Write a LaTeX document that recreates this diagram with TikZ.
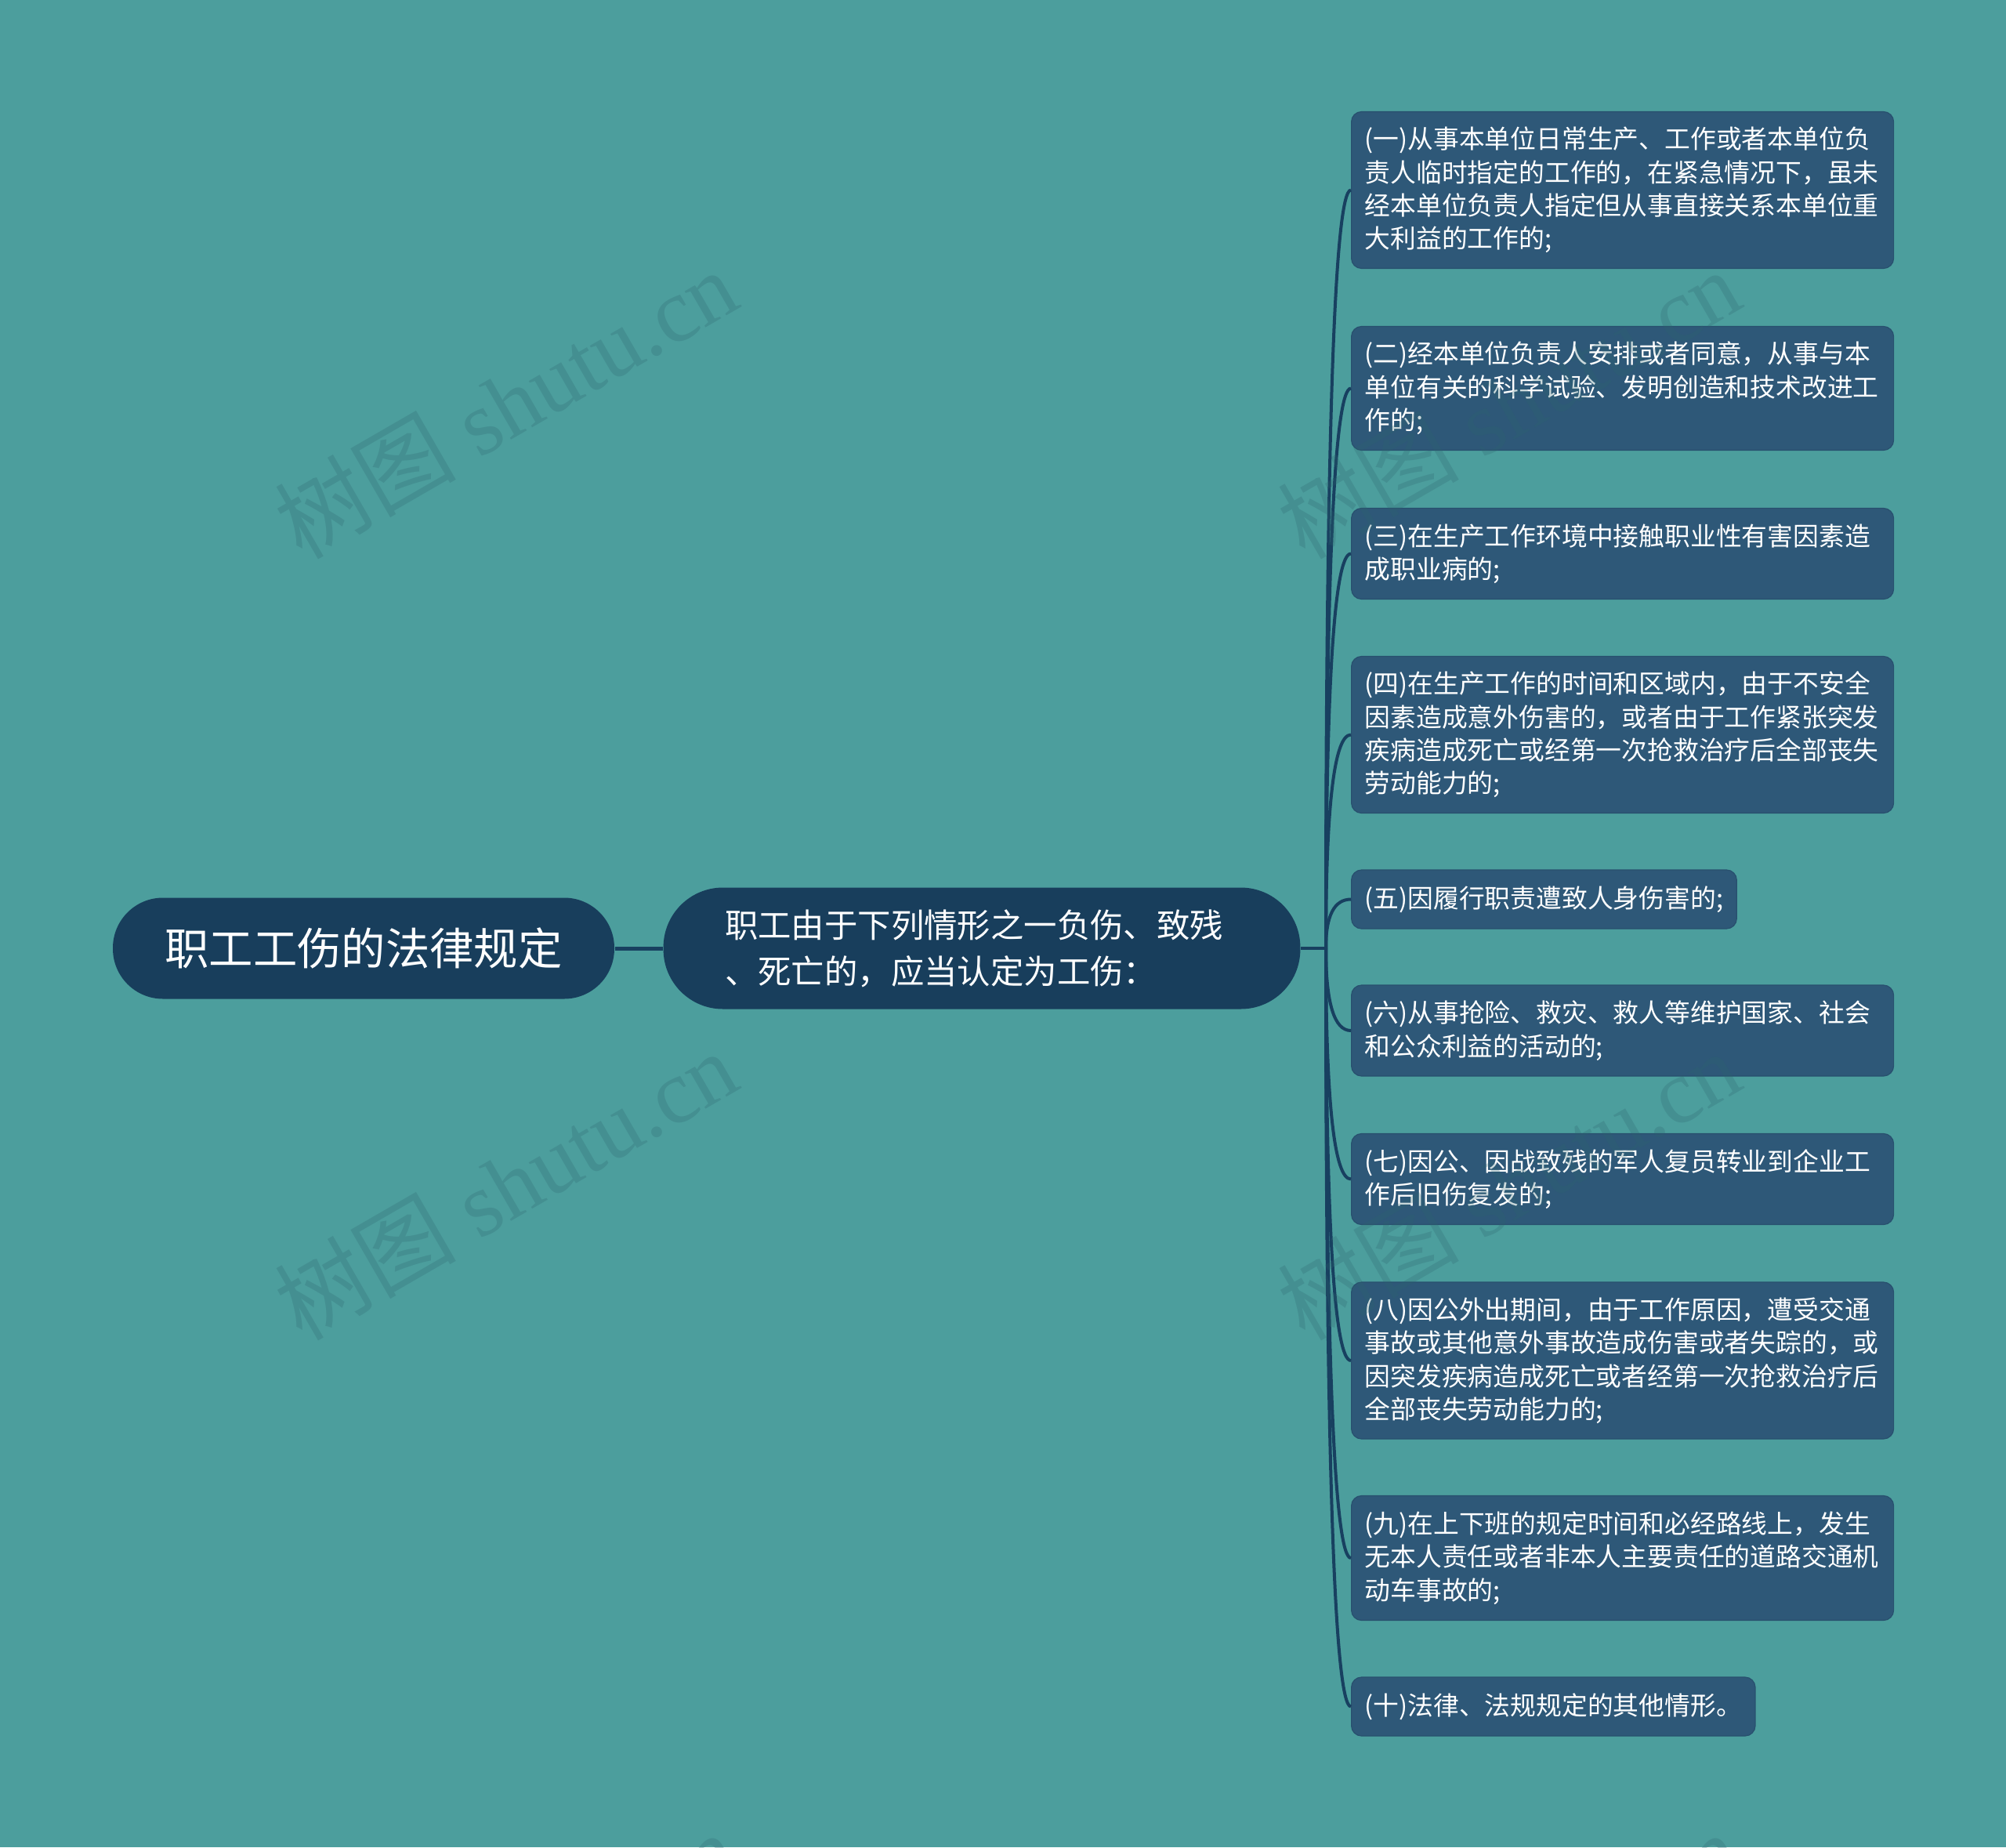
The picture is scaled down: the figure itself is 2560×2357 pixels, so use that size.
\documentclass[tikz,border=0pt]{standalone}
\usepackage{fontspec}
\setmainfont{Noto Sans CJK SC}
\newfontfamily\wmfont{Liberation Serif}
\newfontfamily\wmcjk{Noto Sans CJK SC}
\usetikzlibrary{calc}

\definecolor{bgteal}{RGB}{76,158,157}
\definecolor{rootblue}{RGB}{24,62,92}
\definecolor{itemblue}{RGB}{46,88,120}
\definecolor{itemline}{RGB}{40,80,110}
\definecolor{linkblue}{RGB}{24,64,96}
\definecolor{wmgray}{RGB}{45,100,110}

\begin{document}
\begin{tikzpicture}[x=0.25pt,y=-0.25pt,
    rootnode/.style={fill=rootblue,text=white,rounded corners=16pt,
      minimum width=160pt,minimum height=32.25pt,inner sep=0pt,
      font=\fontsize{14.1pt}{17pt}\selectfont},
    casenode/.style={fill=rootblue,text=white,rounded corners=19pt,
      minimum height=38.75pt,text width=164pt,inner xsep=19.6pt,inner ysep=0pt,
      align=left,font=\fontsize{10.6pt}{14.7pt}\selectfont},
    item/.style={fill=itemblue,draw=itemline,line width=0.3pt,text=white,
      rounded corners=3.25pt,anchor=west,align=left,inner xsep=4.25pt,inner ysep=0pt,
      font=\fontsize{8.2pt}{10.6pt}\selectfont},
    wide/.style={text width=164.5pt},
    link/.style={draw=linkblue,line width=1pt},
    branch/.style={to path={.. controls ($(\tikztostart)!.667!(\tikztostart |- \tikztotarget)$)
      and ($(\tikztotarget)!.667!(\tikztostart |- \tikztotarget)$) .. (\tikztotarget)}},
    watermark/.style={text=wmgray,opacity=0.25,rotate=30,
      font=\wmfont\fontsize{29pt}{29pt}\selectfont}]
  \useasboundingbox (0,0) rectangle (2560,2357);
  \fill[bgteal] (0,0) rectangle (2560,2357);

  % main topic and its one child
  \node[rootnode] (law) at (464,1210) {职工工伤的法律规定};
  \node[casenode] (cases) at (1253,1210) {职工由于下列情形之一负伤、致残\\、死亡的，应当认定为工伤：};
  \coordinate (hub) at (1692,1210);

  % the ten cases
  \node[item,wide,minimum height=50pt] (i1) at (1724,242.5)
    {(一)从事本单位日常生产、工作或者本单位负\\责人临时指定的工作的，在紧急情况下，虽未\\经本单位负责人指定但从事直接关系本单位重\\大利益的工作的;};
  \node[item,wide,minimum height=39.5pt] (i2) at (1724,495.5)
    {(二)经本单位负责人安排或者同意，从事与本\\单位有关的科学试验、发明创造和技术改进工\\作的;};
  \node[item,wide,minimum height=29pt] (i3) at (1724,706.5)
    {(三)在生产工作环境中接触职业性有害因素造\\成职业病的;};
  \node[item,wide,minimum height=50pt] (i4) at (1724,937.5)
    {(四)在生产工作的时间和区域内，由于不安全\\因素造成意外伤害的，或者由于工作紧张突发\\疾病造成死亡或经第一次抢救治疗后全部丧失\\劳动能力的;};
  \node[item,minimum height=18.75pt] (i5) at (1724,1147.5)
    {(五)因履行职责遭致人身伤害的;};
  \node[item,wide,minimum height=29pt] (i6) at (1724,1315)
    {(六)从事抢险、救灾、救人等维护国家、社会\\和公众利益的活动的;};
  \node[item,wide,minimum height=29pt] (i7) at (1724,1504.5)
    {(七)因公、因战致残的军人复员转业到企业工\\作后旧伤复发的;};
  \node[item,wide,minimum height=50pt] (i8) at (1724,1736)
    {(八)因公外出期间，由于工作原因，遭受交通\\事故或其他意外事故造成伤害或者失踪的，或\\因突发疾病造成死亡或者经第一次抢救治疗后\\全部丧失劳动能力的;};
  \node[item,wide,minimum height=39.75pt] (i9) at (1724,1988)
    {(九)在上下班的规定时间和必经路线上，发生\\无本人责任或者非本人主要责任的道路交通机\\动车事故的;};
  \node[item,minimum height=18.75pt] (i10) at (1724,2177.5)
    {(十)法律、法规规定的其他情形。};

  \draw[link,line width=1.25pt] (law) -- (cases);
  \draw[link] (cases) -- (hub);
  \draw[link] (hub) to[branch] (i1.west);
  \draw[link] (hub) to[branch] (i2.west);
  \draw[link] (hub) to[branch] (i3.west);
  \draw[link] (hub) to[branch] (i4.west);
  \draw[link] (hub) to[branch] (i5.west);
  \draw[link] (hub) to[branch] (i6.west);
  \draw[link] (hub) to[branch] (i7.west);
  \draw[link] (hub) to[branch] (i8.west);
  \draw[link] (hub) to[branch] (i9.west);
  \draw[link] (hub) to[branch] (i10.west);

  % watermarks
  \node[watermark] (wm1) at (645,515) {{\wmcjk 树图} shutu.cn};
  \node[watermark] (wm2) at (1925,515) {{\wmcjk 树图} shutu.cn};
  \node[watermark] (wm3) at (645,1512) {{\wmcjk 树图} shutu.cn};
  \node[watermark] (wm4) at (1925,1512) {{\wmcjk 树图} shutu.cn};
  \node[watermark] (wm5) at (645,2509) {{\wmcjk 树图} shutu.cn};
  \node[watermark] (wm6) at (1925,2509) {{\wmcjk 树图} shutu.cn};
\end{tikzpicture}
\end{document}
